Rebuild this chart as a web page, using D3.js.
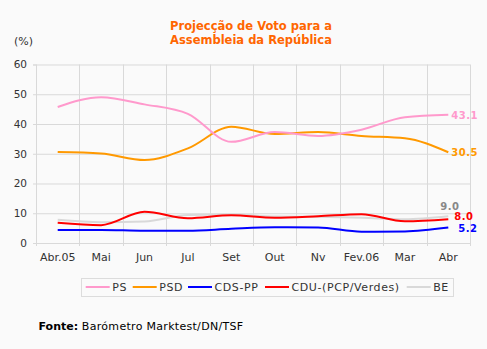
<!DOCTYPE html>
<html><head><meta charset="utf-8">
<script src="https://cdn.jsdelivr.net/npm/d3@7"></script>
<style>
html,body{margin:0;padding:0;background:#fafafa;}
svg{display:block;font-family:"DejaVu Sans",Verdana,sans-serif;}
</style></head>
<body><svg id="c" width="487" height="349"></svg>
<script>
const months = ["Abr.05","Mai","Jun","Jul","Set","Out","Nv","Fev.06","Mar","Abr"];
const yTicks = [0,10,20,30,40,50,60];
const seriesNames = ["PS","PSD","CDS-PP","CDU-(PCP/Verdes)","BE"];
const seriesColors = ["#ff99cc","#ff9900","#0000ff","#ff0000","#d9d9d9"];
const ps    = [45.7,49.0,46.6,43.4,34.0,37.3,36.0,38.1,42.3,43.1];
const psd   = [30.6,30.1,27.9,31.8,39.1,36.6,37.3,36.0,35.2,30.5];
const cds   = [4.4,4.4,4.1,4.1,4.8,5.3,5.2,3.8,3.9,5.2];
const cdu   = [6.8,6.0,10.5,8.3,9.3,8.5,9.0,9.7,7.3,8.0];
const be    = [7.8,7.0,7.2,9.4,9.6,8.9,8.8,8.5,8.0,9.0];
const endLabels = ["43.1","30.5","5.2","8.0","9.0"];
const labelColors = ["#ff99cc","#ff9900","#0000ff","#ff0000","#888888"];
const allSeries = [ps,psd,cds,cdu,be];

const svg = d3.select("#c");
const L=36,R=470,T=64.5,B=243;
const x = d3.scaleBand().domain(months).range([L,R]);
const y = d3.scaleLinear().domain([0,60]).range([B,T]);
const grid="#d9d9d9";

// title
svg.append("text").attr("x",251).attr("y",30).attr("text-anchor","middle")
  .attr("font-size",11.5).attr("font-weight","bold").attr("fill","#ff6600").text("Projecção de Voto para a");
svg.append("text").attr("x",251).attr("y",43.5).attr("text-anchor","middle")
  .attr("font-size",11.5).attr("font-weight","bold").attr("fill","#ff6600").text("Assembleia da República");
svg.append("text").attr("x",14).attr("y",45).attr("font-size",11).attr("fill","#333").text("(%)");

// horizontal grid + y axis
const ya = d3.axisLeft(y).tickValues(yTicks).tickSize(3).tickPadding(6).tickFormat(d3.format("d"));
const gy = svg.append("g").attr("transform",`translate(${L},0)`).call(ya);
gy.select(".domain").attr("stroke",grid);
gy.selectAll(".tick line").attr("stroke",grid);
gy.selectAll(".tick text").attr("font-size",10.5).attr("fill","#333").attr("font-family","DejaVu Sans, sans-serif");
svg.append("g").selectAll("line").data(yTicks).join("line")
  .attr("x1",L).attr("x2",R).attr("y1",d=>y(d)+0.5).attr("y2",d=>y(d)+0.5)
  .attr("stroke",grid).attr("stroke-width",1);

// vertical grid at band edges
const edges = d3.range(months.length+1).map(i=>L+i*x.step());
svg.append("g").selectAll("line").data(edges).join("line")
  .attr("x1",d=>Math.round(d)+0.5).attr("x2",d=>Math.round(d)+0.5).attr("y1",T).attr("y2",B+3)
  .attr("stroke",grid);

// x axis labels
const xa = d3.axisBottom(x).tickSize(0).tickPadding(10);
const gx = svg.append("g").attr("transform",`translate(0,${B})`).call(xa);
gx.select(".domain").remove();
gx.selectAll(".tick text").attr("font-size",11).attr("fill","#333").attr("font-family","DejaVu Sans, sans-serif");

// lines
const line = d3.line().x((d,i)=>x(months[i])+x.bandwidth()/2).y(d=>y(d)).curve(d3.curveMonotoneX);
const order=[4,3,2,1,0];
order.forEach(k=>{
  svg.append("path").datum(allSeries[k]).attr("d",line).attr("fill","none")
    .attr("stroke",seriesColors[k]).attr("stroke-width",2);
});

// end labels
const lastX = x(months[months.length-1])+x.bandwidth()/2;
const dxs=[3,3,10,6,-8];
const dys=[4,4,4.5,1,-6];
allSeries.forEach((s,k)=>{
  svg.append("text").attr("x",lastX+dxs[k]).attr("y",y(s[s.length-1])+dys[k])
    .attr("font-size",10).attr("letter-spacing",0.5).attr("font-weight","bold").attr("fill",labelColors[k]).text(endLabels[k]);
});

// legend
svg.append("rect").attr("x",81.5).attr("y",278.5).attr("width",372).attr("height",18)
  .attr("fill","#fafafa").attr("stroke","#dcdcdc");
const lx=[85.7,132.7,188,265,406.7];
seriesNames.forEach((n,k)=>{
  svg.append("line").attr("x1",lx[k]).attr("x2",lx[k]+24).attr("y1",287).attr("y2",287)
    .attr("stroke",seriesColors[k]).attr("stroke-width",2);
  svg.append("text").attr("x",lx[k]+26.5).attr("y",291).attr("font-size",11)
    .attr("letter-spacing",0.6).attr("fill","#333").text(n);
});

// footer
const f = svg.append("text").attr("x",38.5).attr("y",330).attr("font-size",11).attr("fill","#000");
f.append("tspan").attr("font-weight","bold").text("Fonte:");
f.append("tspan").attr("letter-spacing",0.3).text(" Barómetro Marktest/DN/TSF");
</script>
</body></html>
